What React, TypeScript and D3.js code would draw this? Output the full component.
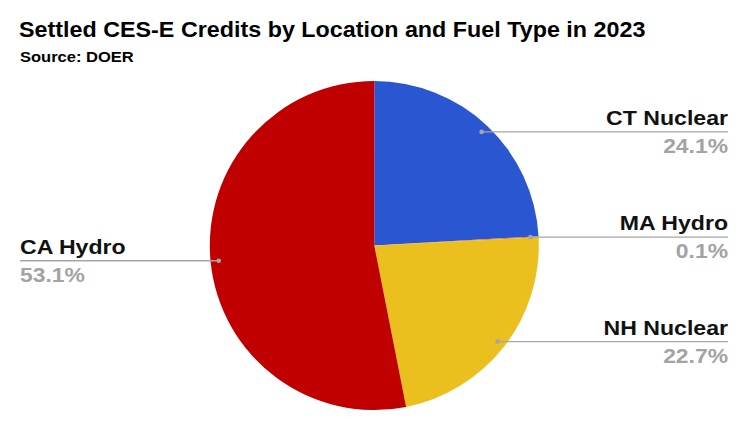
import * as d3 from "d3";
import { useEffect, useRef } from "react";

// data (percent of settled CES-E credits, 2023)
const labels = ["CT Nuclear", "MA Hydro", "NH Nuclear", "CA Hydro"];
const shares = [24.1, 0.1, 22.7, 53.1];
const colors = ["#2a56d2", "#e6791e", "#ebc01e", "#c00000"];

const W = 750;
const H = 430;
const FONT = "'Liberation Sans', Arial, sans-serif";

type Sel = d3.Selection<SVGSVGElement | null, unknown, null, undefined>;

// the reference text is drawn a little wider than Liberation Sans, so squash/stretch in x
function label(
  svg: Sel,
  x: number,
  y: number,
  txt: string,
  size: number,
  k: number,
  color: string,
  anchor = "start"
) {
  return svg
    .append("text")
    .attr("transform", `translate(${x},${y}) scale(${k},1)`)
    .attr("text-anchor", anchor)
    .style("font", `bold ${size}px ${FONT}`)
    .attr("fill", color)
    .text(txt);
}

function App() {
  const ref = useRef<SVGSVGElement>(null);

  useEffect(() => {
    const svg = d3.select(ref.current);
    svg.selectAll("*").remove();

    const cx = 374.3;
    const cy = 245.5;
    const R = 164.5;

    svg.append("rect").attr("width", W).attr("height", H).attr("fill", "#fff");

    label(svg, 19, 37, "Settled CES-E Credits by Location and Fuel Type in 2023", 22, 1.06, "#000");
    label(svg, 20, 62, "Source: DOER", 14.5, 1.14, "#000");

    const data = labels.map((name, i) => ({ name, value: shares[i], color: colors[i] }));

    const pie = d3
      .pie<(typeof data)[number]>()
      .value((d) => d.value)
      .sort(null);
    const arcs = pie(data);

    const arc = d3.arc<d3.PieArcDatum<(typeof data)[number]>>().innerRadius(0).outerRadius(R);

    const g = svg.append("g").attr("transform", `translate(${cx},${cy})`);
    g.selectAll("path")
      .data(arcs)
      .join("path")
      .attr("d", arc)
      .attr("fill", (d) => d.data.color);

    // leader lines + labels
    const rDot = R * 0.95;
    const rightEnd = 728;
    const leftEnd = 20;

    arcs.forEach((a) => {
      const mid = (a.startAngle + a.endAngle) / 2;
      const px = cx + rDot * Math.sin(mid);
      const py = cy - rDot * Math.cos(mid);
      const right = Math.sin(mid) >= 0;
      const ex = right ? rightEnd : leftEnd;
      const anchor = right ? "end" : "start";

      svg
        .append("line")
        .attr("x1", px)
        .attr("y1", py)
        .attr("x2", ex)
        .attr("y2", py)
        .attr("stroke", "#a6a6a6")
        .attr("stroke-width", 1.4);
      svg
        .append("circle")
        .attr("cx", px)
        .attr("cy", py)
        .attr("r", 2.3)
        .attr("fill", "#a6a6a6");

      label(svg, ex, py - 7, a.data.name, 21, 1.1, "#111", anchor);
      label(svg, ex, py + 21, `${a.data.value.toFixed(1)}%`, 21, 1.09, "#a3a3a3", anchor);
    });
  }, []);

  return (
    <svg
      ref={ref}
      width={W}
      height={H}
      style={{ position: "absolute", left: 0, top: 0, display: "block" }}
    />
  );
}

export default App;
